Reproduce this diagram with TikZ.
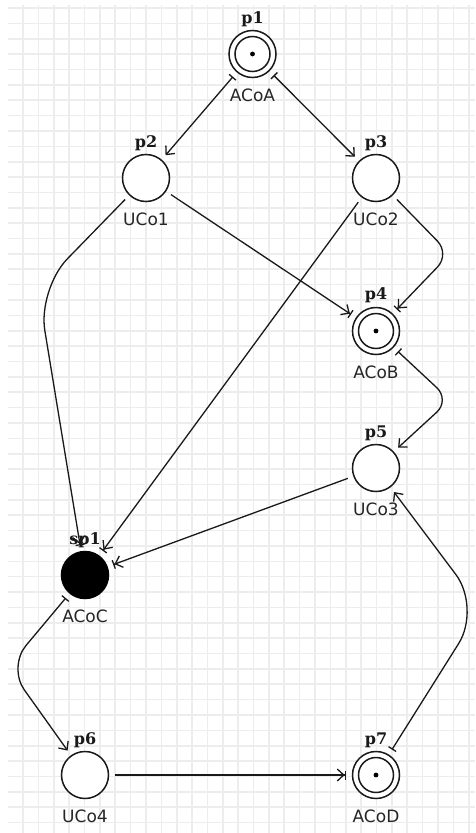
\documentclass[tikz,border=0pt]{standalone}
\usepackage{fontspec}
\setmainfont{DejaVu Sans}
\newfontfamily\nmfont{DejaVu Serif}
\usetikzlibrary{arrows.meta}
\begin{document}
\begin{tikzpicture}[x=1pt,y=-1pt,
  gridline/.style={draw=black!7, line width=1.6pt},
  place/.style={circle, draw=black!90, line width=1.5pt, minimum size=47pt, inner sep=0pt, outer sep=6.5pt, fill=white},
  aplace/.style={place, path picture={
      \draw[black!90, line width=1.5pt] (path picture bounding box.center) circle (17.5pt);
      \fill[black] (path picture bounding box.center) circle (2.4pt);}},
  splace/.style={place, fill=black, draw=black},
  nm/.style={font=\nmfont\bfseries\fontsize{16}{16}\selectfont, anchor=base, inner sep=0pt, text=black!90},
  sub/.style={font=\fontsize{17}{17}\selectfont, anchor=base, inner sep=0pt, text=black!85},
  arc/.style={draw=black!90, line width=1.3pt},
  AtoU/.style={arc, {Bar[width=9pt]}-{Straight Barb[length=6.5pt,width=12pt]}},
  UtoA/.style={arc, -{Straight Barb[length=6.5pt,width=12pt] Bar[width=9pt]}}
]
\useasboundingbox (0,0) rectangle (475,833);
\fill[white] (0,0) rectangle (475,833);
\foreach \k in {0,...,29} {\draw[gridline] ({23+15.37*\k},5) -- ({23+15.37*\k},833);}
\foreach \k in {0,...,53} {\draw[gridline] (8,{8+15.37*\k}) -- (475,{8+15.37*\k});}

% places
\node[aplace] (p1) at (252.5,54) {};
\node[place] (p2) at (146,178) {};
\node[place] (p3) at (376,178) {};
\node[aplace] (p4) at (376,331) {};
\node[place] (p5) at (376,468) {};
\node[splace] (sp1) at (85,575) {};
\node[place] (p6) at (85,775) {};
\node[aplace] (p7) at (376,775) {};

% names
\node[nm] (p1n) at (252.5,23) {p1};
\node[nm] (p2n) at (146,147) {p2};
\node[nm] (p3n) at (376,147) {p3};
\node[nm] (p4n) at (376,299) {p4};
\node[nm] (p5n) at (376,437) {p5};
\node[nm] (sp1n) at (85,544) {sp1};
\node[nm] (p6n) at (85,744) {p6};
\node[nm] (p7n) at (376,744) {p7};

% sub labels
\node[sub] (p1s) at (252.5,101) {ACoA};
\node[sub] (p2s) at (146,225) {UCo1};
\node[sub] (p3s) at (376,225) {UCo2};
\node[sub] (p4s) at (376,378) {ACoB};
\node[sub] (p5s) at (376,515) {UCo3};
\node[sub] (sp1s) at (85,622) {ACoC};
\node[sub] (p6s) at (85,822) {UCo4};
\node[sub] (p7s) at (376,822) {ACoD};

% bend points
\coordinate (c1) at (38,289);
\coordinate (c2) at (450,254);
\coordinate (c3) at (450,400);
\coordinate (c4) at (8,667);
\coordinate (c5) at (481,608);

% arcs
\draw[UtoA] (p2) -- (p4);
\draw[UtoA, rounded corners=42pt] (p2) -- (c1) -- (sp1);
\draw[UtoA] (p3) -- (sp1);
\draw[AtoU] (p1) -- (p2);
\draw[AtoU] (p1) -- (p3);
\draw[UtoA, rounded corners=18pt] (p3) -- (c2) -- (p4);
\draw[AtoU, rounded corners=18pt] (p4) -- (c3) -- (p5);
\draw[UtoA] (p5) -- (sp1);
\draw[AtoU, rounded corners=28pt] (sp1) -- (c4) -- (p6);
\draw[UtoA] (p6) -- (p7);
\draw[AtoU, rounded corners=42pt] (p7) -- (c5) -- (p5);
\end{tikzpicture}
\end{document}
